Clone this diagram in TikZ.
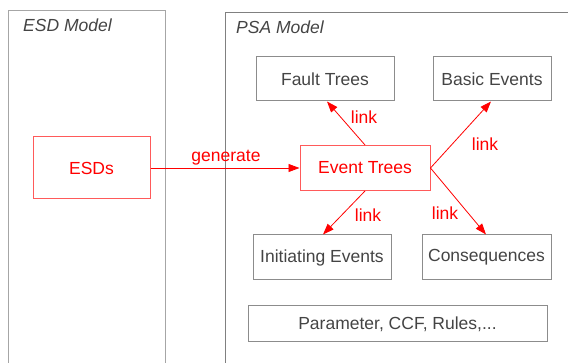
\documentclass[tikz,border=0pt]{standalone}
\usepackage{fontspec}
\setmainfont{Liberation Sans}
\usetikzlibrary{arrows.meta}
\definecolor{boxgray}{HTML}{8C8C8C}
\definecolor{txtgray}{HTML}{444444}
\definecolor{myred}{HTML}{FF0000}
\definecolor{lightred}{HTML}{FF5A5A}
\tikzset{
  x=1pt, y=-1pt,
  every node/.style={font=\fontsize{17.5}{20}\selectfont, inner sep=0pt},
  graybox/.style={draw=boxgray, line width=1pt, text=txtgray, anchor=center},
  redbox/.style={draw=lightred, line width=1pt, text=myred, anchor=center},
  linkarrow/.style={draw=myred, line width=0.8pt, -{Triangle[length=11pt,width=8pt]}},
  redlabel/.style={text=myred},
  frame/.style={draw=boxgray, line width=1pt},
}
\begin{document}
\begin{tikzpicture}
\useasboundingbox (0,0) rectangle (568,363);
% model frames
\draw[frame, draw=black!35] (8.5,370) -- (8.5,10.5) -- (165,10.5) -- (165,370);
\draw[frame, draw=black!50] (225.5,370) -- (225.5,12.5) -- (575,12.5);
\node[text=txtgray, font=\fontsize{17.5}{20}\selectfont\itshape, anchor=west] (esdlabel) at (23,25) {ESD Model};
\node[text=txtgray, font=\fontsize{17.5}{20}\selectfont\itshape, anchor=west] (psalabel) at (236,27) {PSA Model};
% nodes
\node[redbox, minimum width=117pt, minimum height=62pt] (esds) at (91.5,168) {ESDs};
\node[redbox, minimum width=130pt, minimum height=45pt] (et) at (365,168) {Event Trees};
\node[graybox, minimum width=138pt, minimum height=44pt] (ft) at (325,79) {Fault Trees};
\node[graybox, minimum width=118pt, minimum height=44pt] (be) at (492,79) {Basic Events};
\node[graybox, minimum width=138pt, minimum height=45pt] (ie) at (322,257.5) {Initiating Events};
\node[graybox, minimum width=129pt, minimum height=45pt] (cq) at (486.5,257.5) {Consequences};
\node[graybox, minimum width=299pt, minimum height=36pt] (par) at (397.5,324) {Parameter, CCF, Rules,...};
% connectors
\draw[linkarrow] (esds.east) -- (et.west);
\node[redlabel] (gen) at (226,158) {generate};
\coordinate (ftin) at (327,101);
\coordinate (bein) at (491,101);
\coordinate (iein) at (323,235);
\coordinate (cqin) at (486,235);
\draw[linkarrow] (et.north) -- (ft.south -| ftin);
\draw[linkarrow] (et.east) -- (be.south -| bein);
\draw[linkarrow] (et.south) -- (ie.north -| iein);
\draw[linkarrow] (et.east) -- (cq.north -| cqin);
\node[redlabel] (l1) at (364,117) {link};
\node[redlabel] (l2) at (485,144) {link};
\node[redlabel] (l3) at (368,215) {link};
\node[redlabel] (l4) at (445,213) {link};
\end{tikzpicture}
\end{document}
